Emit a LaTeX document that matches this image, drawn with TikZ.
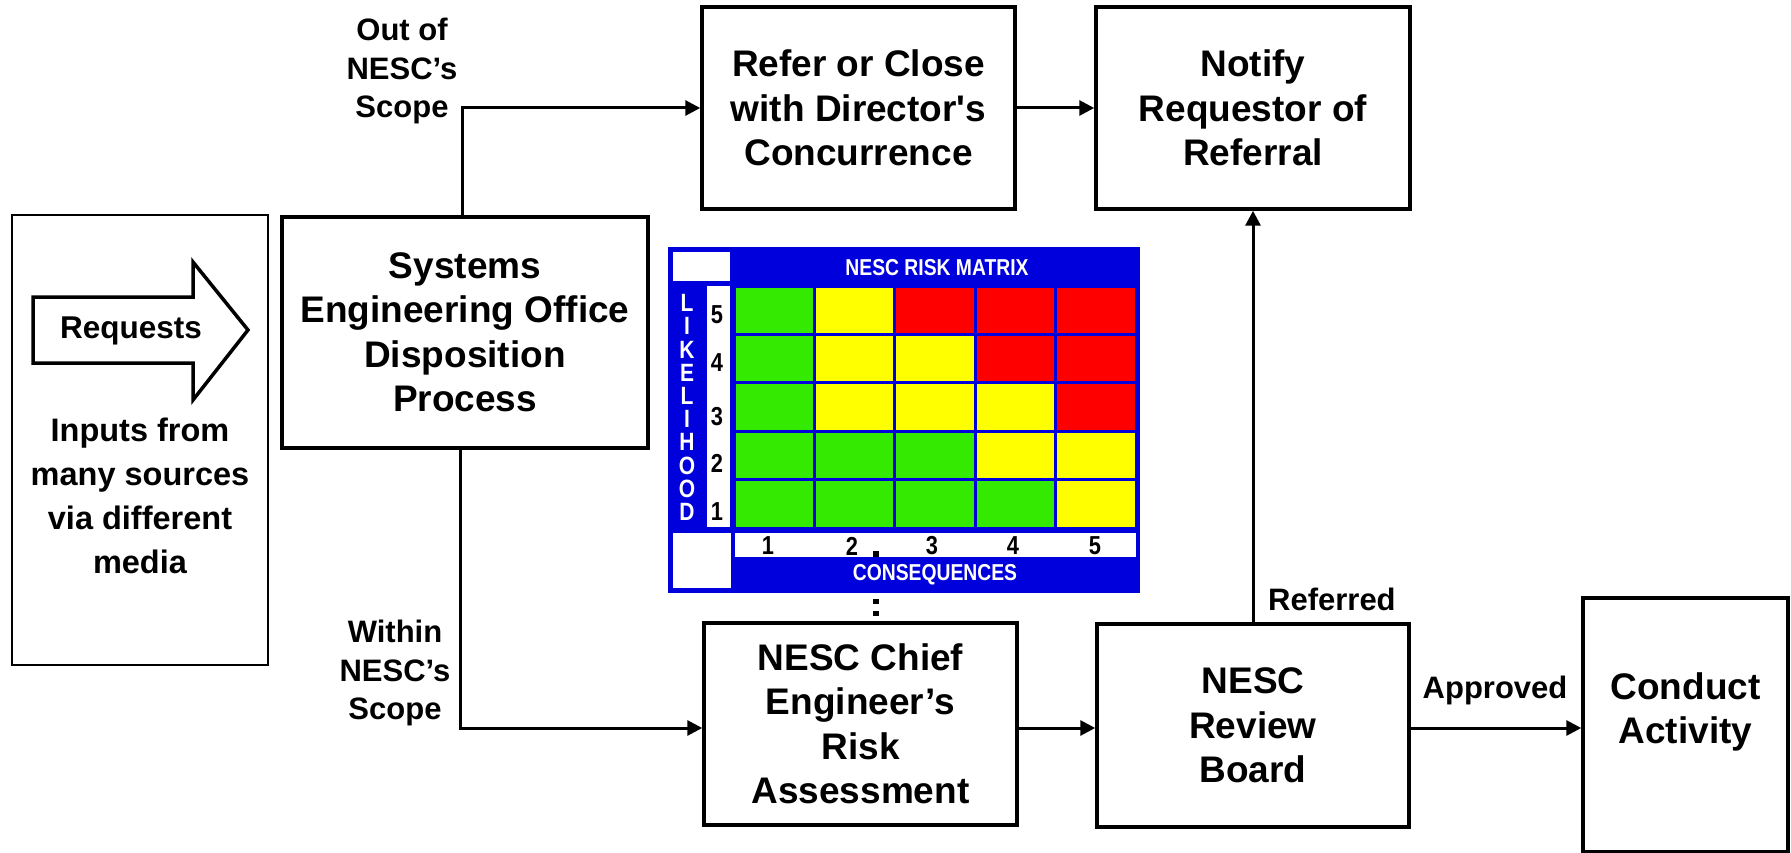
\documentclass[tikz,border=0pt]{standalone}
\usepackage{fontspec}
\setmainfont{Liberation Sans}
\newfontfamily\narrowfont{Liberation Sans}[FakeStretch=0.84]
\usetikzlibrary{positioning}
\usetikzlibrary{arrows.meta}
\definecolor{matblue}{RGB}{0,0,220}
\definecolor{cg}{RGB}{52,234,0}
\definecolor{cy}{RGB}{255,255,0}
\definecolor{cr}{RGB}{255,0,0}
\tikzset{
    mybox/.style = {rectangle, line width=3.5pt, draw=black, align=center, inner sep=0pt, font=\fontsize{37}{44.5}\selectfont\bfseries, text=black},
    myboxt/.style = {rectangle, line width=2pt, draw=black, inner sep=0pt},
    mylabel/.style = {align=center, inner sep=0pt, font=\fontsize{31}{38.5}\selectfont\bfseries, text=black},
    mattext/.style = {inner sep=0pt, font=\narrowfont\fontsize{23}{23}\selectfont\bfseries, text=white},
    matnum/.style = {inner sep=0pt, font=\narrowfont\fontsize{26}{26}\selectfont\bfseries, text=black},
    edgea/.style = {-{Triangle[length=15pt,width=15pt]}, line width=3pt, black},
}

\begin{document}
\begin{tikzpicture}[x=1pt, y=-1pt, font=\bfseries]
  \useasboundingbox (0,0) rectangle (1791,853);

  % inputs
  \node[myboxt, minimum width=256pt, minimum height=450pt] (inputs) at (140,440) {};
  \draw[line width=3.5pt, line join=miter] (33,297) -- (193,297) -- (193,262) -- (248,330)
    -- (193,400) -- (193,363) -- (33,363) -- cycle;
  \node[inner sep=0pt, font=\fontsize{31.5}{38}\selectfont\bfseries] (requests) at (131,331) {Requests};
  \node[align=center, inner sep=0pt, font=\fontsize{32.5}{44}\selectfont\bfseries] (inputstext) at (140,496)
    {Inputs from\\many sources\\via different\\media};

  % process boxes
  \node[mybox, minimum width=366pt, minimum height=231pt] (seo) at (465,332.5)
    {Systems\\Engineering Office\\Disposition\\Process};
  \node[mybox, minimum width=313pt, minimum height=202pt] (refer) at (858.5,108)
    {Refer or Close\\with Director\textquotesingle s\\Concurrence};
  \node[mybox, minimum width=314pt, minimum height=202pt] (notify) at (1253,108)
    {Notify\\Requestor of\\Referral};
  \node[mybox, minimum width=313pt, minimum height=202pt] (chief) at (860.5,724)
    {NESC Chief\\Engineer’s\\Risk\\Assessment};
  \node[mybox, minimum width=312pt, minimum height=203pt] (board) at (1253,725.5)
    {NESC\\Review\\Board};
  \node[mybox, minimum width=205pt, minimum height=254pt] (conduct) at (1685.5,725) {};
  \node[mybox, draw=none] (conducttext) at (1685.5,712) {Conduct\\Activity};

  % labels
  \node[mylabel] (outscope) at (402,71) {Out of\\NESC’s\\Scope};
  \node[mylabel] (inscope) at (395,673) {Within\\NESC’s\\Scope};
  \node[mylabel, anchor=west] (referred) at (1268,599) {Referred};
  \node[mylabel] (approved) at (1495,690) {Approved};

  % connectors
  \draw[edgea] ([xshift=-3pt]seo.north) |- (refer.west);
  \draw[edgea] ([xshift=-5pt]seo.south) |- ([yshift=-4pt]chief.west);
  \draw[edgea] (refer.east) -- (notify.west);
  \draw[edgea] ([yshift=-4pt]chief.east) -- ([yshift=-2.5pt]board.west);
  \draw[edgea] (board.north) -- (notify.south);
  \draw[edgea] ([yshift=-2.5pt]board.east) -- ([yshift=-3pt]conduct.west);

  % risk matrix
  \fill[matblue] (668,247) rectangle (1140,593);
  \fill[white] (673,252) rectangle (730,281);
  \fill[white] (707,286) rectangle (730,527);
  \fill[white] (673,533) rectangle (731,588);
  \fill[white] (735,533) rectangle (1136,557);
  \foreach \rowcols [count=\i from 0] in {{cg,cy,cr,cr,cr},{cg,cy,cy,cr,cr},{cg,cy,cy,cy,cr},{cg,cg,cg,cy,cy},{cg,cg,cg,cg,cy}}
    \foreach \c [count=\j from 0] in \rowcols
      \fill[\c] ({734+80.4*\j+1.5},{286+48.4*\i+1.5}) rectangle ({734+80.4*(\j+1)-1.5},{286+48.4*(\i+1)-1.5});
  \node[mattext] (mattitle) at (937,268) {NESC RISK MATRIX};
  \node[mattext] (matcons) at (935,575) {CONSEQUENCES};
  \foreach \l [count=\k from 0] in {L,I,K,E,L,I,H,O,O,D}
    \node[mattext, font=\narrowfont\fontsize{25}{25}\selectfont\bfseries] (lk\k) at (687,{303+23.2*\k}) {\l};
  \foreach \n/\yy in {5/315,4/363,3/417,2/463,1/512}
    \node[matnum] (ln\n) at (717,\yy) {\n};
  \foreach \n/\xx in {1/768,2/852,3/932,4/1013,5/1095}
    \node[matnum] (cn\n) at (\xx,546) {\n};
  \fill[black] (873,551) rectangle (879,557);
  \fill[black] (873,599) rectangle (879,604);
  \fill[black] (873,611) rectangle (879,616);
\end{tikzpicture}
\end{document}
